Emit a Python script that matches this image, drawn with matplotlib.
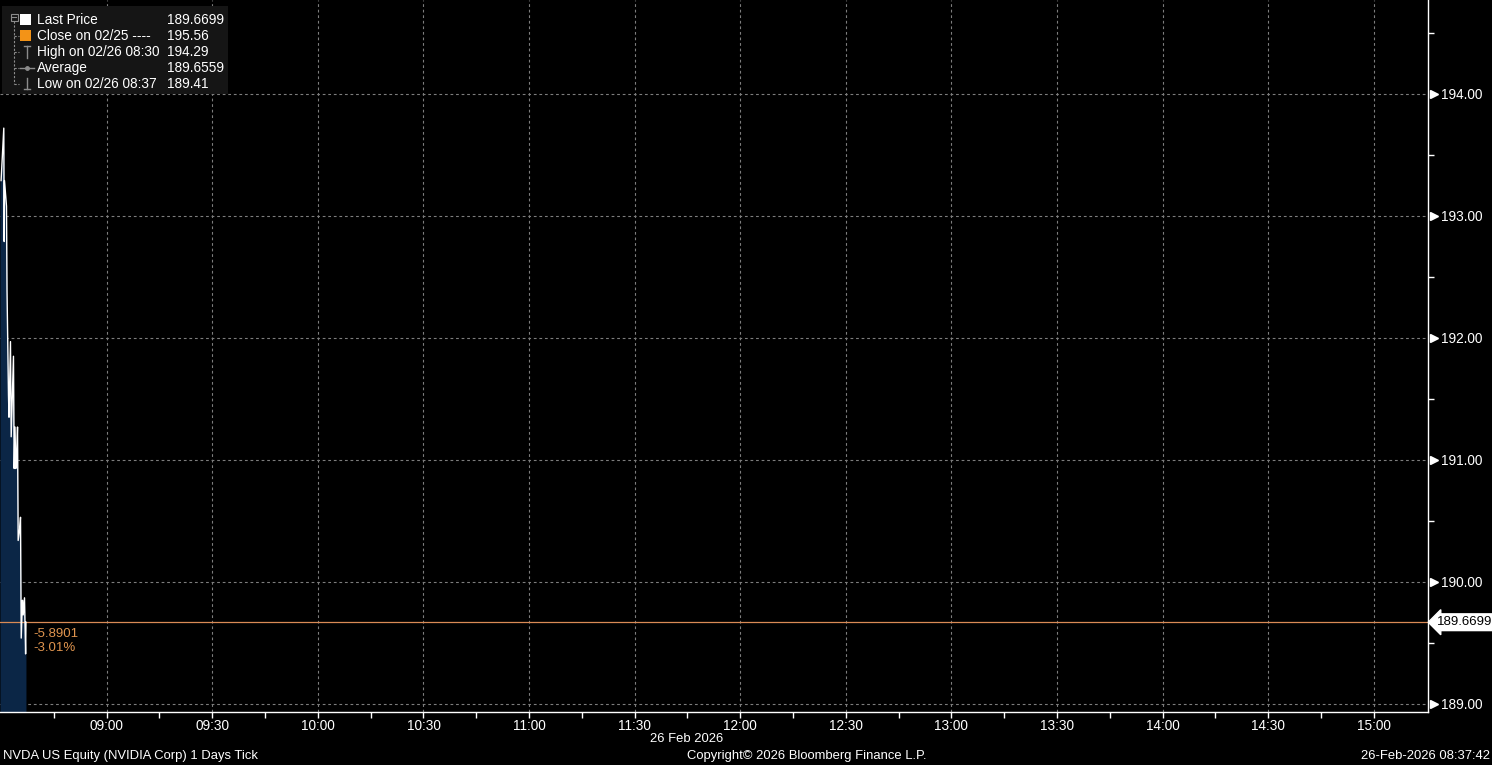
import matplotlib
matplotlib.use("Agg")
import matplotlib.pyplot as plt
from matplotlib.patches import Rectangle
import numpy as np

# ---------------- data ----------------
tick_times = ["08:30:00", "08:30:46", "08:30:53", "08:30:58", "08:31:32", "08:31:41",
              "08:32:06", "08:32:15", "08:32:40", "08:32:52", "08:33:31", "08:33:43",
              "08:33:57", "08:34:11", "08:34:23", "08:34:40", "08:34:51", "08:35:14",
              "08:35:31", "08:35:43", "08:36:05", "08:36:17", "08:36:39", "08:36:58",
              "08:37:04"]
tick_prices = [193.29, 193.72, 192.79, 193.29, 193.08, 192.39,
               191.53, 191.35, 191.97, 191.19, 191.85, 190.93,
               191.27, 190.93, 190.99, 191.27, 190.34, 190.42,
               190.53, 189.54, 189.85, 189.73, 189.87, 189.41,
               189.6699]
prev_close = 195.56

x_tick_labels = ["09:00", "09:30", "10:00", "10:30", "11:00", "11:30", "12:00",
                 "12:30", "13:00", "13:30", "14:00", "14:30", "15:00"]
y_tick_values = [189.0, 190.0, 191.0, 192.0, 193.0, 194.0]

legend_labels = ["Last Price", "Close on 02/25 ----", "High on 02/26 08:30",
                 "Average", "Low on 02/26 08:37"]
legend_values = ["189.6699", "195.56", "194.29", "189.6559", "189.41"]

footer_left = "NVDA US Equity (NVIDIA Corp) 1 Days Tick"
footer_date = "26 Feb 2026"
footer_copy = "Copyright\u00a9 2026 Bloomberg Finance L.P."
footer_stamp = "26-Feb-2026 08:37:42"

# ---------------- helpers ----------------
def to_min(s):
    parts = [int(p) for p in s.split(":")]
    sec = parts[2] if len(parts) > 2 else 0
    return (parts[0] - 8) * 60 + parts[1] - 30 + sec / 60.0

plt.rcParams["font.family"] = ["Liberation Sans", "DejaVu Sans"]

W, H = 1492, 765
fig = plt.figure(figsize=(W / 100, H / 100), dpi=100, facecolor="black")
ax = fig.add_axes([0, 1 - 712 / H, 1428 / W, 712 / H])
ax.set_facecolor("black")

t = np.array([to_min(s) for s in tick_times])
p = np.array(tick_prices)
ymin, ymax = 188.934, 194.770
ax.set_xlim(-0.31, 405.4)
ax.set_ylim(ymin, ymax)

# grid
grid_kw = dict(color="#7d7d7d", lw=0.8, ls=(0, (2.5, 2.5)), zorder=1)
for lab in x_tick_labels:
    ax.axvline(to_min(lab), **grid_kw)
for v in y_tick_values:
    ax.axhline(v, **grid_kw)

# area + line
ax.fill_between(np.concatenate([[ax.get_xlim()[0]], t]), np.concatenate([[p[0]], p]),
                ymin, color="#0b2646", lw=0, zorder=2)
ax.plot(t, p, color="white", lw=1.0, zorder=3)

# previous close (off-scale) and last price lines
ax.axhline(prev_close, color="#f39317", lw=0.9, ls=(0, (4, 3)), zorder=2)
last = p[-1]
ax.axhline(last, color="#d98a55", lw=0.9, zorder=2)

chg = last - prev_close
pct = chg / prev_close * 100
ax.annotate(f"{chg:.4f}\n{pct:.2f}%", xy=(t[-1], last), xytext=(5.5, -4),
            textcoords="offset points", ha="left", va="top", color="#e0954f",
            fontsize=9.5, linespacing=1.25, zorder=4)

# spines
for s in ["top", "left"]:
    ax.spines[s].set_visible(False)
for s in ["right", "bottom"]:
    ax.spines[s].set_color("white")
    ax.spines[s].set_linewidth(1.0)

# x ticks
ax.set_xticks([to_min(l) for l in x_tick_labels])
ax.set_xticklabels(x_tick_labels)
ax.set_xticks(np.arange(15, 405, 30), minor=True)
ax.tick_params(axis="x", which="both", colors="white", length=4, width=1,
               direction="out", labelsize=9.8, pad=1)

# y ticks on right
ax.yaxis.tick_right()
ax.set_yticks(y_tick_values)
ax.set_yticklabels([f"{v:.2f}" for v in y_tick_values])
ax.set_yticks(np.arange(189.5, 194.6, 1.0), minor=True)
ax.tick_params(axis="y", which="major", colors="white", length=0, pad=9, labelsize=9.8)
ax.tick_params(axis="y", which="minor", colors="white", length=4, width=1, direction="out")
ytr = ax.get_yaxis_transform()
ax.plot([1.0045] * len(y_tick_values), y_tick_values, ls="none", marker=">",
        ms=5.5, color="white", transform=ytr, clip_on=False, zorder=5)

# last price label with arrow box
ax.text(1.0065, last, f"{last:.4f}", transform=ytr, ha="left", va="center",
        fontsize=9.5, color="black", zorder=6,
        bbox=dict(boxstyle="larrow,pad=0.18", fc="white", ec="white"))

# ---------------- overlay (legend + footer) ----------------
ov = fig.add_axes([0, 0, 1, 1], zorder=10)
ov.set_xlim(0, W)
ov.set_ylim(H, 0)
ov.axis("off")
ov.patch.set_alpha(0)

ov.add_patch(Rectangle((2, 6), 226, 88, fc="#151515", ec="none"))
row_y = [20, 36, 52, 68, 84]
gray = "#8c8c8c"
# tree
ov.add_patch(Rectangle((10.5, 13.5), 7, 7, fc="none", ec=gray, lw=0.8))
ov.plot([12, 16], [17, 17], color=gray, lw=0.8)
ov.plot([14, 14], [21, 84], color=gray, lw=0.8, ls=(0, (2, 1.5)))
for y in row_y[1:]:
    ov.plot([14, 19], [y, y], color=gray, lw=0.8, ls=(0, (2, 1.5)))
# icons
ov.add_patch(Rectangle((20, 14), 11, 11, fc="white", ec="none"))
ov.add_patch(Rectangle((20, 30), 11, 11, fc="#f39317", ec="none"))
ov.plot([24, 30], [46, 46], color=gray, lw=1)
ov.plot([27, 27], [46, 58], color=gray, lw=1)
ov.plot([20, 34], [68, 68], color=gray, lw=1)
ov.plot([27], [68], marker="o", ms=2.5, color=gray)
ov.plot([27, 27], [78, 89], color=gray, lw=1)
ov.plot([24, 30], [89, 89], color=gray, lw=1)
for y, lab, val in zip(row_y, legend_labels, legend_values):
    ov.text(37, y, lab, color="white", fontsize=9.8, ha="left", va="center")
    ov.text(167, y, val, color="white", fontsize=9.8, ha="left", va="center")

ov.text(3, 756, footer_left, color="white", fontsize=9.4, ha="left", va="center")
ov.text(687, 739, footer_date, color="white", fontsize=9.4, ha="center", va="center")
ov.text(807, 756, footer_copy, color="white", fontsize=9.4, ha="center", va="center")
ov.text(1490, 756, footer_stamp, color="white", fontsize=9.4, ha="right", va="center")

fig.savefig("out.png", dpi=100, facecolor="black")
